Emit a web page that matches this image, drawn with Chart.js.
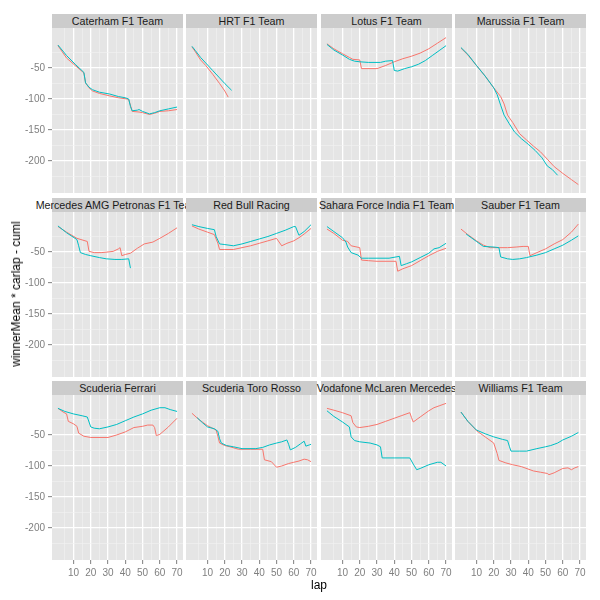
<!DOCTYPE html>
<html>
<head>
<meta charset="utf-8">
<script src="https://cdn.jsdelivr.net/npm/chart.js@4.4.0/dist/chart.umd.min.js"></script>
<style>
  html, body { margin:0; padding:0; background:#FFFFFF; }
  #wrap { position:relative; width:600px; height:600px; overflow:hidden; font-family:'Liberation Sans', Arial, sans-serif; }
  canvas { position:absolute; }
  .strip { position:absolute; background:#CCCCCC; }
  .strip span { position:absolute; left:50%; top:50%; transform:translate(-50%,-52%); white-space:nowrap; font-size:10.7px; color:#1A1A1A; }
  .title { position:absolute; white-space:nowrap; font-size:12px; color:#000000; }
</style>
</head>
<body>
<div id="wrap"></div>
<script>
// ---------- data ----------
const teams = ["Caterham F1 Team","HRT F1 Team","Lotus F1 Team","Marussia F1 Team",
  "Mercedes AMG Petronas F1 Team","Red Bull Racing","Sahara Force India F1 Team","Sauber F1 Team",
  "Scuderia Ferrari","Scuderia Toro Rosso","Vodafone McLaren Mercedes","Williams F1 Team"];

const caterhamRed  = [[1,-14],[6,-34],[11,-46],[16,-58],[17,-74],[19,-82],[21,-87],[25,-91],[31,-95],[36,-98],[41,-100],[42,-101],[43,-110],[44,-120],[48,-121],[50,-122],[54,-125],[57,-123],[60,-120],[65,-119],[70,-117]];
const caterhamCyan = [[1,-13],[6,-30],[11,-44],[16,-57],[17,-74],[19,-81],[21,-85],[25,-89],[31,-92],[36,-96],[40,-98],[42,-100],[43,-112],[44,-119],[47,-118],[48,-117],[50,-120],[54,-124],[57,-122],[60,-119],[65,-116],[70,-113]];
const hrtRed  = [[1,-16],[3,-24],[6,-37],[9,-46],[13,-60],[17,-75],[20,-87],[22,-97]];
const hrtCyan = [[1,-15],[3,-22],[6,-33],[9,-42],[13,-54],[17,-66],[20,-75],[24,-86]];
const lotusRed  = [[1,-11],[5,-19],[10,-27],[14,-33],[16,-36],[20,-37],[21,-51],[30,-51],[35,-46],[40,-40],[45,-35],[50,-31],[55,-26],[60,-19],[65,-10],[70,-1]];
const lotusCyan = [[1,-12],[5,-21],[10,-29],[14,-36],[17,-39],[20,-40],[25,-41],[32,-41],[35,-39],[39,-38],[40,-54],[42,-55],[46,-51],[50,-48],[54,-44],[58,-38],[62,-30],[66,-22],[70,-14]];
const marussiaRed  = [[1,-18],[5,-29],[10,-46],[15,-63],[20,-82],[24,-96],[26,-108],[28,-126],[31,-138],[35,-156],[39,-166],[43,-176],[47,-185],[51,-197],[55,-209],[60,-220],[65,-230],[69,-238]];
const marussiaCyan = [[1,-17],[5,-28],[10,-46],[15,-63],[20,-82],[22,-93],[24,-110],[26,-126],[29,-140],[32,-153],[36,-164],[40,-173],[44,-183],[48,-195],[51,-208],[54,-214],[57,-223]];
const mercedesRed  = [[1,-9],[6,-18],[12,-28],[18,-33],[19,-49],[22,-51],[26,-51],[30,-50],[33,-49],[36,-45],[37,-43],[38,-56],[40,-54],[43,-52],[47,-44],[51,-37],[56,-34],[60,-28],[65,-20],[70,-11]];
const mercedesCyan = [[1,-8],[6,-19],[12,-30],[13,-40],[14,-51],[17,-54],[20,-56],[25,-59],[29,-61],[34,-62],[38,-62],[42,-61],[43,-76]];
const redbullRed  = [[1,-8],[5,-13],[10,-18],[14,-22],[16,-36],[17,-46],[20,-46],[25,-46],[30,-43],[35,-40],[40,-36],[45,-32],[50,-28],[53,-40],[56,-36],[60,-32],[63,-27],[66,-21],[70,-12]];
const redbullCyan = [[1,-6],[5,-9],[10,-12],[14,-14],[15,-25],[17,-37],[20,-38],[25,-40],[30,-37],[35,-33],[40,-29],[45,-25],[50,-20],[55,-15],[60,-9],[61,-9],[63,-23],[66,-17],[70,-6]];
const forceIndiaRed  = [[1,-13],[5,-20],[10,-31],[13,-33],[15,-40],[20,-43],[21,-63],[25,-64],[30,-65],[41,-65],[42,-81],[45,-77],[50,-72],[55,-64],[60,-56],[65,-49],[70,-44]];
const forceIndiaCyan = [[1,-9],[5,-17],[10,-27],[12,-34],[13,-42],[15,-51],[19,-55],[21,-60],[25,-60],[30,-60],[37,-60],[43,-57],[44,-72],[47,-69],[50,-66],[55,-59],[60,-52],[63,-45],[66,-43],[70,-36]];
const sauberRed  = [[1,-13],[5,-22],[10,-32],[14,-39],[18,-43],[23,-43],[28,-43],[33,-42],[37,-41],[40,-41],[41,-56],[45,-51],[50,-45],[55,-37],[60,-30],[65,-18],[69,-5]];
const sauberCyan = [[4,-21],[10,-33],[14,-41],[20,-42],[23,-43],[24,-58],[28,-61],[31,-62],[35,-61],[39,-59],[45,-55],[50,-51],[55,-45],[60,-39],[65,-31],[69,-24]];
const ferrariRed  = [[1,-7],[4,-13],[6,-16],[7,-28],[10,-32],[12,-36],[13,-47],[16,-52],[20,-54],[30,-54],[35,-50],[40,-45],[45,-38],[50,-36],[53,-34],[56,-34],[57,-38],[58,-51],[60,-49],[65,-37],[70,-23]];
const ferrariCyan = [[1,-7],[5,-12],[10,-16],[15,-19],[18,-21],[20,-37],[22,-39],[25,-40],[30,-37],[35,-33],[40,-27],[45,-21],[50,-16],[55,-10],[60,-6],[63,-6],[66,-9],[70,-12]];
const toroRossoRed  = [[1,-15],[5,-25],[10,-35],[15,-42],[16,-52],[17,-63],[20,-67],[23,-69],[28,-73],[35,-73],[42,-73],[43,-90],[47,-93],[50,-102],[53,-100],[57,-96],[60,-94],[63,-92],[66,-89],[68,-90],[70,-93]];
const toroRossoCyan = [[4,-22],[7,-30],[10,-37],[14,-40],[16,-44],[17,-56],[18,-63],[21,-67],[25,-69],[30,-72],[38,-72],[42,-70],[46,-66],[50,-63],[53,-61],[56,-58],[57,-65],[58,-74],[61,-70],[64,-64],[66,-60],[67,-68],[69,-66],[70,-65]];
const mclarenRed  = [[1,-7],[5,-10],[10,-14],[15,-19],[16,-30],[18,-37],[20,-38],[25,-36],[30,-33],[35,-28],[40,-23],[44,-19],[49,-14],[50,-22],[51,-29],[55,-21],[60,-11],[63,-6],[66,-3],[70,1]];
const mclarenCyan = [[1,-11],[5,-20],[10,-29],[14,-37],[15,-53],[17,-59],[20,-61],[26,-63],[30,-66],[32,-69],[33,-87],[40,-87],[49,-87],[51,-97],[53,-106],[55,-104],[60,-98],[65,-94],[67,-94],[70,-100]];
const williamsRed  = [[1,-13],[5,-28],[10,-43],[15,-53],[20,-63],[22,-80],[23,-91],[27,-95],[31,-98],[36,-101],[43,-108],[47,-110],[51,-112],[52,-114],[55,-111],[60,-104],[63,-103],[65,-106],[67,-103],[69,-101]];
const williamsCyan = [[1,-13],[5,-28],[10,-42],[15,-48],[20,-53],[25,-57],[28,-59],[29,-68],[30,-76],[35,-76],[39,-76],[45,-72],[50,-69],[53,-67],[57,-63],[60,-58],[65,-52],[69,-46]];

const redSeries  = [caterhamRed, hrtRed, lotusRed, marussiaRed, mercedesRed, redbullRed, forceIndiaRed, sauberRed, ferrariRed, toroRossoRed, mclarenRed, williamsRed];
const cyanSeries = [caterhamCyan, hrtCyan, lotusCyan, marussiaCyan, mercedesCyan, redbullCyan, forceIndiaCyan, sauberCyan, ferrariCyan, toroRossoCyan, mclarenCyan, williamsCyan];

const xTickValues = [5,10,15,20,25,30,35,40,45,50,55,60,65,70];
const xTickLabels = [10,20,30,40,50,60,70];
const yTickValues = [-225,-200,-175,-150,-125,-100,-75,-50,-25];
const yTickLabels = [-200,-150,-100,-50];
const xRange = [-2.45, 73.45];
const yRange = [-251.6, 14.5];
const xTitle = "lap";
const yTitle = "winnerMean * carlap - cuml";

// ---------- layout ----------
const colLeft = [52, 186, 321, 455];
const rowTop = [28, 212, 395];
const PW = 131, PH = 165, YAXW = 52, XAXH = 30, STRIPH = 14.5;
const FONT = "'Liberation Sans', Arial, sans-serif";
const RED = '#F8766D', CYAN = '#00BFC4';

const wrap = document.getElementById('wrap');

const panelBg = {
  id: 'panelBg',
  beforeDraw(chart) {
    const {ctx, chartArea: a} = chart;
    ctx.save();
    ctx.fillStyle = '#E5E5E5';
    ctx.fillRect(a.left, a.top, a.right - a.left, a.bottom - a.top);
    ctx.restore();
  }
};

const toXY = arr => arr.map(p => ({x: p[0], y: p[1]}));

teams.forEach((team, i) => {
  const col = i % 4, row = Math.floor(i / 4);
  const showY = col === 0, showX = row === 2;

  // strip
  const strip = document.createElement('div');
  strip.className = 'strip';
  strip.style.left = colLeft[col] + 'px';
  strip.style.top = (rowTop[row] - STRIPH) + 'px';
  strip.style.width = PW + 'px';
  strip.style.height = STRIPH + 'px';
  strip.style.zIndex = 10 + i;
  const sp = document.createElement('span');
  sp.textContent = team;
  strip.appendChild(sp);
  wrap.appendChild(strip);

  // canvas
  const cv = document.createElement('canvas');
  const cw = PW + (showY ? YAXW : 0);
  const ch = PH + (showX ? XAXH : 0);
  cv.width = cw; cv.height = ch;
  cv.style.width = cw + 'px'; cv.style.height = ch + 'px';
  cv.style.left = (colLeft[col] - (showY ? YAXW : 0)) + 'px';
  cv.style.top = rowTop[row] + 'px';
  wrap.appendChild(cv);

  new Chart(cv, {
    type: 'line',
    data: {
      datasets: [
        {data: toXY(redSeries[i]), borderColor: RED, borderWidth: 1, pointRadius: 0, tension: 0, order: 1, fill: false},
        {data: toXY(cyanSeries[i]), borderColor: CYAN, borderWidth: 1, pointRadius: 0, tension: 0, order: 0, fill: false}
      ]
    },
    options: {
      responsive: false,
      animation: false,
      events: [],
      devicePixelRatio: 1,
      layout: {padding: 0},
      plugins: {legend: {display: false}, tooltip: {enabled: false}, title: {display: false}},
      scales: {
        x: {
          type: 'linear', min: xRange[0], max: xRange[1],
          border: {display: false},
          afterBuildTicks: s => { s.ticks = xTickValues.map(v => ({value: v})); },
          afterFit: s => { s.height = showX ? XAXH : 0; s.paddingLeft = 0; s.paddingRight = 0; },
          ticks: {
            display: showX, autoSkip: false, maxRotation: 0, minRotation: 0, padding: 3,
            color: '#7F7F7F', font: {family: FONT, size: 10},
            callback: v => xTickLabels.includes(v) ? String(v) : ''
          },
          grid: {
            color: c => (c.tick && c.tick.value % 10 === 0) ? '#FFFFFF' : '#F2F2F2',
            lineWidth: c => (c.tick && c.tick.value % 10 === 0) ? 1.3 : 0.6,
            drawTicks: showX, tickLength: 4, tickWidth: 1,
            tickColor: c => (c.tick && c.tick.value % 10 === 0) ? '#7F7F7F' : 'rgba(0,0,0,0)'
          }
        },
        y: {
          type: 'linear', min: yRange[0], max: yRange[1],
          border: {display: false},
          afterBuildTicks: s => { s.ticks = yTickValues.map(v => ({value: v})); },
          afterFit: s => { s.width = showY ? YAXW : 0; s.paddingTop = 0; s.paddingBottom = 0; },
          ticks: {
            display: showY, autoSkip: false, padding: 3,
            color: '#7F7F7F', font: {family: FONT, size: 10},
            callback: v => yTickLabels.includes(v) ? String(v) : ''
          },
          grid: {
            color: c => (c.tick && c.tick.value % 50 === 0) ? '#FFFFFF' : '#F2F2F2',
            lineWidth: c => (c.tick && c.tick.value % 50 === 0) ? 1.3 : 0.6,
            drawTicks: showY, tickLength: 4, tickWidth: 1,
            tickColor: c => (c.tick && c.tick.value % 50 === 0) ? '#7F7F7F' : 'rgba(0,0,0,0)'
          }
        }
      }
    },
    plugins: [panelBg]
  });
});

// axis titles
const xt = document.createElement('div');
xt.className = 'title';
xt.textContent = xTitle;
xt.style.left = '319px'; xt.style.top = '585px';
xt.style.transform = 'translate(-50%,-50%)';
wrap.appendChild(xt);

const yt = document.createElement('div');
yt.className = 'title';
yt.textContent = yTitle;
yt.style.left = '16px'; yt.style.top = '294px';
yt.style.transform = 'translate(-50%,-50%) rotate(-90deg)';
wrap.appendChild(yt);
</script>
</body>
</html>
